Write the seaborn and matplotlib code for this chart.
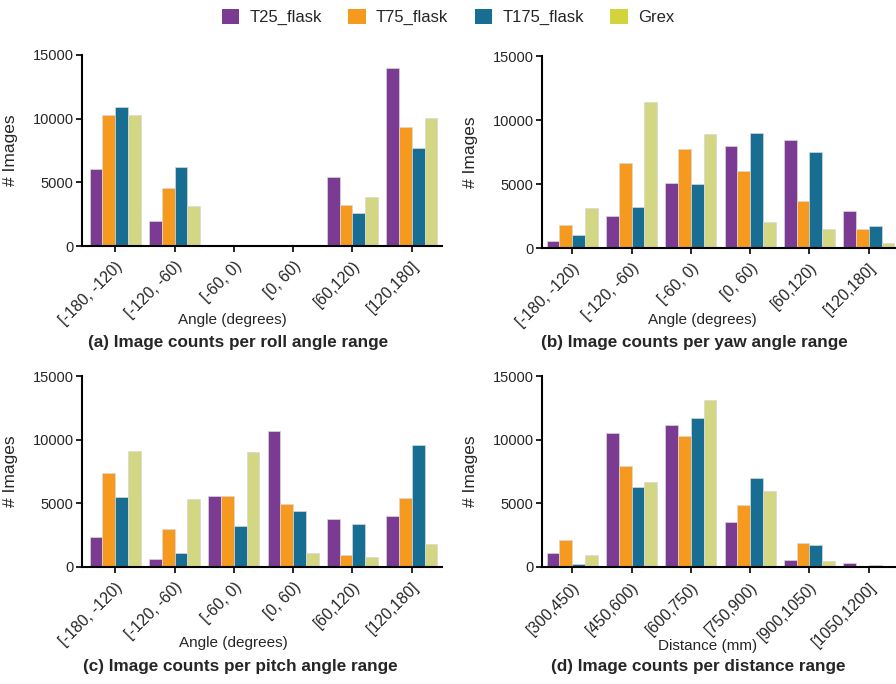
import numpy as np
import pandas as pd
import matplotlib.pyplot as plt
import seaborn as sns
from matplotlib.patches import Patch

# ---- data ----
vessels = ['T25_flask', 'T75_flask', 'T175_flask', 'Grex']
angle_bins = ['[-180, -120)', '[-120, -60)', '[-60, 0)', '[0, 60)', '[60,120)', '[120,180]']
dist_bins = ['[300,450)', '[450,600)', '[600,750)', '[750,900)', '[900,1050)', '[1050,1200]']

roll_t25 = [6050, 1990, 0, 0, 5420, 13940]
roll_t75 = [10270, 4530, 0, 0, 3220, 9330]
roll_t175 = [10950, 6240, 0, 0, 2570, 7700]
roll_grex = [10270, 3140, 0, 0, 3830, 10030]

yaw_t25 = [520, 2470, 5050, 7970, 8460, 2860]
yaw_t75 = [1770, 6670, 7710, 6020, 3670, 1480]
yaw_t175 = [990, 3180, 4970, 9010, 7470, 1740]
yaw_grex = [3100, 11430, 8930, 2000, 1510, 365]

pitch_t25 = [2380, 600, 5540, 10710, 3760, 4020]
pitch_t75 = [7390, 2950, 5540, 4960, 940, 5380]
pitch_t175 = [5490, 1100, 3190, 4420, 3370, 9590]
pitch_grex = [9120, 5330, 9040, 1100, 780, 1830]

dist_t25 = [1130, 10490, 11140, 3570, 580, 310]
dist_t75 = [2100, 7970, 10250, 4880, 1860, 20]
dist_t175 = [240, 6270, 11690, 6970, 1700, 160]
dist_grex = [970, 6710, 13080, 6000, 450, 0]

bar_colors = ['#7B3B93', '#F59A1F', '#186E92', '#D3D783']
legend_colors = ['#7B3B93', '#F59A1F', '#186E92', '#D2D43C']


def long_df(bins, series):
    rows = []
    for name, vals in zip(vessels, series):
        for b, v in zip(bins, vals):
            rows.append({'range': b, 'vessel': name, 'count': v})
    return pd.DataFrame(rows)


sns.set_style('white')
plt.rcParams['font.family'] = ['Liberation Sans', 'DejaVu Sans']
plt.rcParams['axes.linewidth'] = 1.5

W, H = 896, 684
fig = plt.figure(figsize=(W / 100, H / 100), dpi=100)


def px_axes(left, right, top, bottom):
    return fig.add_axes([left / W, 1 - bottom / H, (right - left) / W, (bottom - top) / H])


panels = [
    # bins, series, axes box, xlim, xlabel, label x/y px, title, title xy
    (angle_bins, [roll_t25, roll_t75, roll_t175, roll_grex], (82, 442, 55, 246), (-0.56, 5.51),
     'Angle (degrees)', (232, 320), '(a) Image counts per roll angle range', (238, 342)),
    (angle_bins, [yaw_t25, yaw_t75, yaw_t175, yaw_grex], (542, 899, 56, 248), (-0.51, 5.51),
     'Angle (degrees)', (702, 320), '(b) Image counts per yaw angle range', (694, 342)),
    (angle_bins, [pitch_t25, pitch_t75, pitch_t175, pitch_grex], (82, 442, 376, 567), (-0.56, 5.51),
     'Angle (degrees)', (233, 643), '(c) Image counts per pitch angle range', (240, 667)),
    (dist_bins, [dist_t25, dist_t75, dist_t175, dist_grex], (542, 899, 376, 567), (-0.51, 5.51),
     'Distance (mm)', (708, 646), '(d) Image counts per distance range', (698, 667)),
]

for bins, series, box, xlim, xlabel, lxy, title, txy in panels:
    ax = px_axes(*box)
    df = long_df(bins, series)
    sns.barplot(data=df, x='range', y='count', hue='vessel', order=bins, hue_order=vessels,
                palette=bar_colors, saturation=1, width=0.86, edgecolor='#d8d8d8',
                linewidth=0.5, legend=False, ax=ax)
    ax.set_ylim(0, 15000)
    ax.set_xlim(*xlim)
    ax.set_yticks([0, 5000, 10000, 15000])
    ax.tick_params(axis='both', which='major', direction='out', length=4, width=1.2,
                   color='black', left=True, bottom=True)
    ax.tick_params(axis='y', labelsize=10.5, pad=2)
    ax.tick_params(axis='x', labelsize=11.5, pad=5)
    ax.set_xticks(range(len(bins)))
    ax.set_xticklabels(bins, rotation=45, ha='right', rotation_mode='anchor')
    sns.despine(ax=ax)
    for s in ['left', 'bottom']:
        ax.spines[s].set_color('black')
    wpx = box[1] - box[0]
    hpx = box[3] - box[2]
    ax.set_ylabel('# Images', fontsize=12.5)
    ax.set_xlabel(xlabel, fontsize=11)
    ax.xaxis.label.set_va('center')
    ax.xaxis.set_label_coords((lxy[0] - box[0]) / wpx, -(lxy[1] - box[3]) / hpx)
    ax.yaxis.set_label_coords(-64 / wpx, 0.5)
    fig.text(txy[0] / W, 1 - txy[1] / H, title, ha='center', va='center',
             fontsize=12.3, fontweight='bold')

handles = [Patch(facecolor=c, edgecolor='none') for c in legend_colors]
fig.legend(handles, vessels, loc='center', bbox_to_anchor=(0.5, 1 - 17 / H), ncol=4,
           frameon=False, fontsize=12, handlelength=1.05, handleheight=1.05,
           columnspacing=1.6, handletextpad=0.6)

fig.savefig('out.png', dpi=100)
